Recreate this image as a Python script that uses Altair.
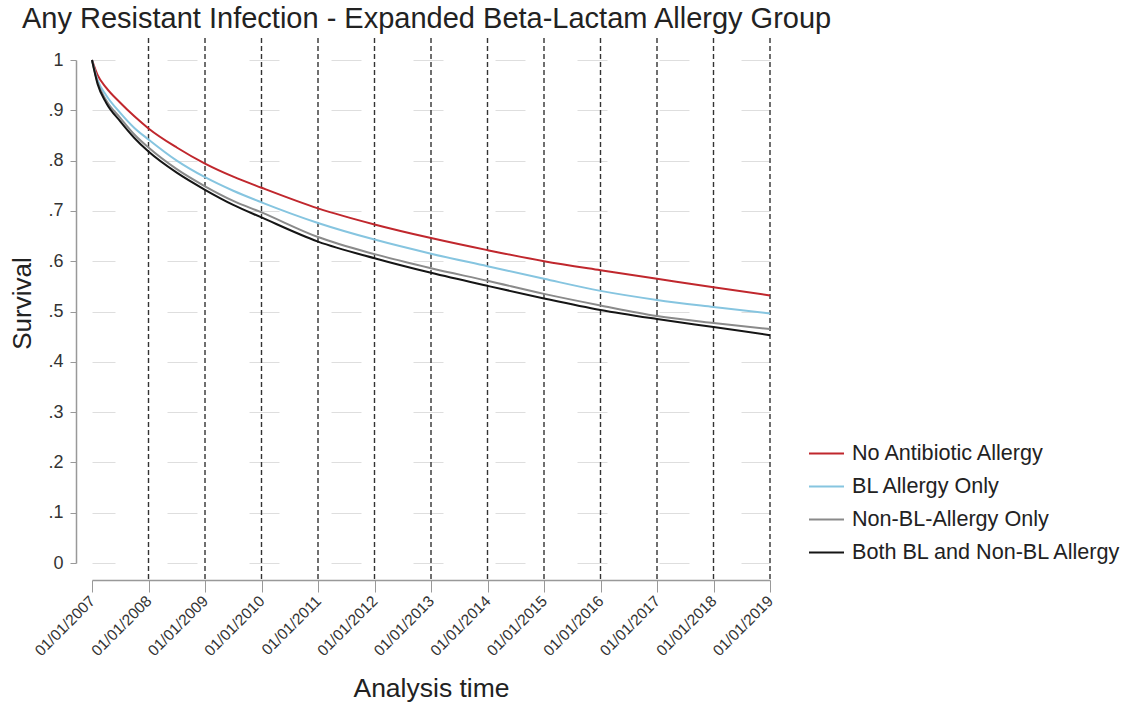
import altair as alt
import pandas as pd

# Follow-up time (calendar years) and survival estimates for each group
time_years = [2007.0, 2007.1, 2007.25, 2007.5, 2007.75, 2008.0, 2008.5, 2009.0, 2009.5,
              2010.0, 2011.0, 2012.0, 2013.0, 2014.0, 2015.0, 2016.0, 2017.0, 2018.0, 2019.0]
no_allergy = [1.0, 0.970, 0.945, 0.915, 0.888, 0.864, 0.826, 0.794, 0.768,
              0.746, 0.705, 0.673, 0.646, 0.622, 0.600, 0.582, 0.565, 0.548, 0.532]
bl_only = [1.0, 0.960, 0.930, 0.895, 0.865, 0.842, 0.800, 0.767, 0.740,
           0.717, 0.676, 0.643, 0.615, 0.590, 0.565, 0.541, 0.523, 0.509, 0.496]
non_bl_only = [1.0, 0.955, 0.920, 0.885, 0.852, 0.826, 0.783, 0.749, 0.720,
               0.697, 0.648, 0.614, 0.586, 0.561, 0.535, 0.512, 0.491, 0.477, 0.465]
both = [1.0, 0.952, 0.915, 0.878, 0.845, 0.818, 0.776, 0.742, 0.712,
        0.687, 0.639, 0.606, 0.577, 0.551, 0.526, 0.503, 0.485, 0.469, 0.453]

groups = ["No Antibiotic Allergy", "BL Allergy Only", "Non-BL-Allergy Only",
          "Both BL and Non-BL Allergy"]
colors = ["#c0272d", "#86c5e0", "#8a8a8a", "#151515"]
tick_years = list(range(2007, 2020))
marker_years = list(range(2008, 2020))

rows = []
for name, series in zip(groups, [no_allergy, bl_only, non_bl_only, both]):
    for t, s in zip(time_years, series):
        rows.append({"time": t, "survival": s, "group": name})
curves = pd.DataFrame(rows)
markers = pd.DataFrame({"year": marker_years})

W, H = 678, 503
FONT = "Liberation Sans"

x_scale = alt.Scale(domain=[2007, 2019], nice=False, zero=False)
y_scale = alt.Scale(domain=[0, 1], nice=False)

lines = alt.Chart(curves).mark_line(strokeWidth=2, interpolate="monotone").encode(
    x=alt.X("time:Q", scale=x_scale,
            axis=alt.Axis(values=tick_years, title="Analysis time",
                          labelExpr="'01/01/' + datum.value",
                          labelAngle=315, labelAlign="right", labelBaseline="middle",
                          labelFontSize=15.5, labelColor="#333", labelPadding=6,
                          labelOverlap=False, labelBound=False, labelFlush=False,
                          offset=17, grid=False, tickSize=12, tickColor="#999",
                          domainColor="#999", domainWidth=1.5,
                          titleFontSize=26.5, titleFontWeight="normal", titleColor="#222",
                          titleY=108, titleBaseline="middle")),
    y=alt.Y("survival:Q", scale=y_scale,
            axis=alt.Axis(values=[i / 10 for i in range(11)], title="Survival",
                          labelExpr="datum.value == 0 ? '0' : datum.value == 1 ? '1' : '.' + round(datum.value * 10)",
                          labelFontSize=18, labelColor="#333", labelPadding=7,
                          labelOverlap=False,
                          offset=16, tickSize=6, tickColor="#999",
                          domainColor="#999", domainWidth=1.5,
                          grid=True, gridColor="#dedede", gridDash=[30, 52],
                          gridDashOffset=7, gridWidth=1,
                          titleFontSize=26, titleFontWeight="normal", titleColor="#222",
                          titleX=-54, titleY=243, titleBaseline="middle")),
    color=alt.Color("group:N", sort=groups,
                    scale=alt.Scale(domain=groups, range=colors),
                    legend=alt.Legend(title=None, orient="none", legendX=716, legendY=375,
                                      symbolType="stroke", symbolSize=1225,
                                      symbolStrokeWidth=2, labelFontSize=21.6,
                                      labelColor="#222", labelOffset=7, rowPadding=3,
                                      labelLimit=0)),
    order=alt.Order("group:N"),
)

year_rules = alt.Chart(markers).mark_rule(
    color="#333", strokeDash=[5, 3], strokeWidth=1.4
).encode(
    x=alt.X("year:Q", scale=x_scale),
    y=alt.value(-22),
    y2=alt.value(H + 17),
)

chart = alt.layer(year_rules, lines).properties(
    width=W, height=H,
    title=alt.TitleParams("Any Resistant Infection - Expanded Beta-Lactam Allergy Group",
                          anchor="start", frame="group", dx=-70, offset=3,
                          fontSize=29, fontWeight="normal", color="#222", font=FONT),
    autosize=alt.AutoSizeParams(type="none"),
    padding={"left": 92, "top": 60, "right": 355, "bottom": 143},
).configure(font=FONT).configure_view(stroke=None)

chart.save("out.html", embed_options={"renderer": "svg", "actions": False})
